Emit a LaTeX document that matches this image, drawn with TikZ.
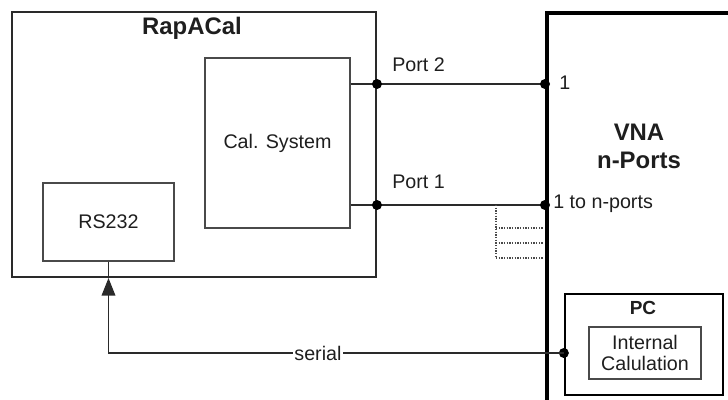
\documentclass[tikz,border=0pt]{standalone}
\usepackage{fontspec}
\setmainfont{Liberation Sans}
\usetikzlibrary{arrows.meta,positioning}
\definecolor{cline}{HTML}{2A2A2A}
\definecolor{cinner}{HTML}{4A4A4A}
\definecolor{ctext}{HTML}{1E1E1E}

\begin{document}
\begin{tikzpicture}[
    x=0.025cm, y=-0.025cm,
    font=\fontsize{14}{15}\selectfont,
    wire/.style={line width=1.1pt,cline},
    outerbox/.style={draw=cline,line width=1.3pt,inner sep=0pt},
    innerbox/.style={draw=cinner,line width=0.8pt,text=ctext,
        inner sep=0pt,align=center},
    boxtitle/.style={font=\fontsize{17}{20}\selectfont\bfseries,
        text=ctext,align=center},
    plabel/.style={text=ctext,inner sep=0pt},
    junction/.style={circle,fill=black,inner sep=0pt,minimum size=2.5mm},
    stub/.style={densely dotted,line width=0.9pt,cinner},
]

\clip (0,0) rectangle (728,400);

% ============================================================
% RAPACAL UNIT
% ============================================================
\node[outerbox, minimum width=9.1cm, minimum height=6.625cm]
    (rapacal) at (194,144.5) {};
\node[boxtitle] (rapacaltitle) at (192,28) {RapACal};

\node[innerbox, minimum width=3.625cm, minimum height=4.25cm]
    (calsys) at (277.5,143) {Cal. System};
\node[innerbox, minimum width=3.275cm, minimum height=1.95cm]
    (rs232) at (108.5,222) {RS232};

% ============================================================
% VNA
% ============================================================
\node[draw=black, line width=2.6pt, anchor=north west, inner sep=0pt,
    minimum width=5.5cm, minimum height=10.5cm] (vna) at (545,11) {};
\node[boxtitle] (vnatitle) at (639,146) {VNA\\n-Ports};

\coordinate (p2) at (545,84);
\coordinate (p1) at (545,205);

% Port lines
\draw[wire] (calsys.east |- p2) -- (p2);
\draw[wire] (calsys.east |- p1) -- (p1);
\node[junction] (j2a) at (rapacal.east |- p2) {};
\node[junction] (j2b) at (p2) {};
\node[junction] (j1a) at (rapacal.east |- p1) {};
\node[junction] (j1b) at (p1) {};

\node[plabel, anchor=west] (port2) at (392,65) {Port 2};
\node[plabel, anchor=west] (port1) at (392,182) {Port 1};
\node[plabel, anchor=west] (vnaone) at (559,83) {1};
\node[plabel, anchor=west] (vnan) at (553,204) {1 to n-ports};

% further ports (dotted)
\draw[stub] (496,205) -- (496,258);
\foreach \y in {228,243,258} {
    \draw[stub] (496,\y) -- (543,\y);
}

% ============================================================
% PC
% ============================================================
\node[outerbox, draw=black, line width=1.6pt,
    minimum width=3.95cm, minimum height=2.525cm] (pc) at (644,344.5) {};
\node[boxtitle, font=\fontsize{13.5}{15}\selectfont\bfseries]
    (pctitle) at (643,308) {PC};
\node[innerbox, minimum width=2.8cm, minimum height=1.3cm]
    (intcalc) at (645,353) {Internal\\Calulation};

% Serial link
\node[junction] (jpc) at (pc.west |- intcalc.west) {};
\draw[wire] (rs232.south) -- (rs232.south |- rapacal.south);
\draw[wire, -{Triangle[length=4.4mm,width=3.4mm]}]
    (jpc.center) -| (rs232.south |- rapacal.south)
    node[pos=0.27, fill=white, inner sep=1pt, text=ctext] (seriallbl) {serial};

\end{tikzpicture}
\end{document}
